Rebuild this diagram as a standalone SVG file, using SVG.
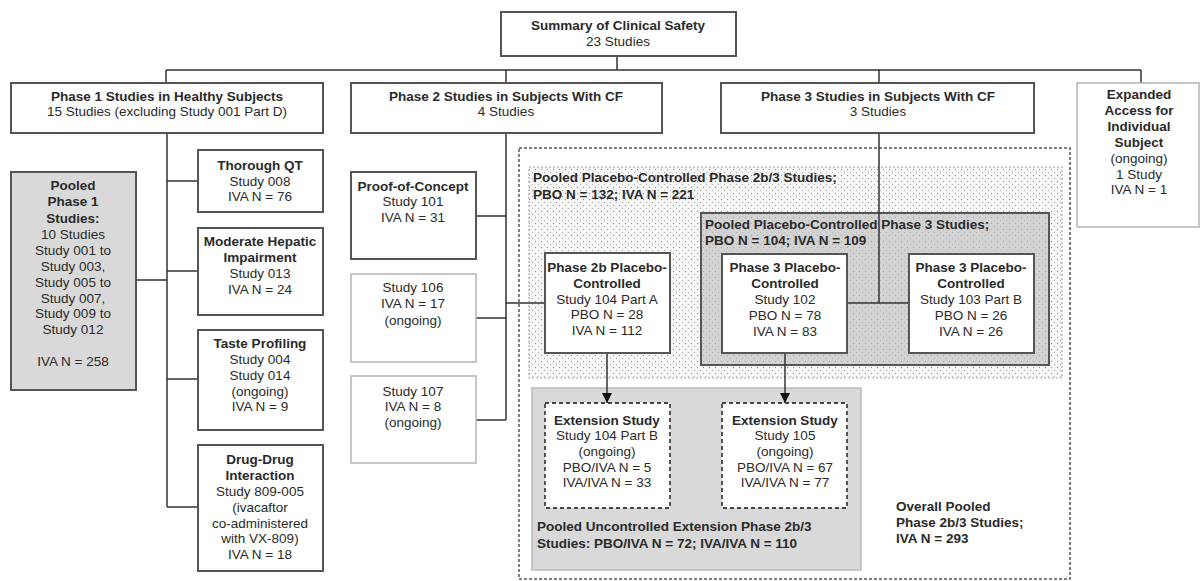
<svg xmlns="http://www.w3.org/2000/svg" width="1202" height="581" viewBox="0 0 1202 581">
<style>
text{font-family:"Liberation Sans",Arial,sans-serif;font-size:13.5px;fill:#2a2a2a;text-anchor:middle;dominant-baseline:middle}
.b{font-weight:bold}
.l{text-anchor:start}
.box{fill:#fff;stroke:#555;stroke-width:2}
.lite{fill:#fff;stroke:#b5b5b5;stroke-width:1.5}
.ext{fill:#fff;stroke:#444;stroke-width:1.8;stroke-dasharray:4 3}
.con{fill:none;stroke:#333;stroke-width:1.5}
</style>
<defs>
<pattern id="dotsW" width="6" height="6" patternUnits="userSpaceOnUse">
<rect width="6" height="6" fill="#f7f7f7"/>
<circle cx="1.5" cy="1.5" r="0.7" fill="#9a9a9a"/>
<circle cx="4.5" cy="4.5" r="0.7" fill="#b5b5b5"/>
</pattern>
<pattern id="dotsG" width="6" height="6" patternUnits="userSpaceOnUse">
<rect width="6" height="6" fill="#d3d3d3"/>
<circle cx="1.5" cy="1.5" r="0.7" fill="#a8a8a8"/>
<circle cx="4.5" cy="4.5" r="0.7" fill="#b8b8b8"/>
</pattern>
<marker id="arr" viewBox="0 0 10 10" refX="10" refY="5" markerWidth="10" markerHeight="10" markerUnits="userSpaceOnUse" orient="auto">
<path d="M0,0 L10,5 L0,10 Z" fill="#111"/>
</marker>
</defs>
<rect width="1202" height="581" fill="#fff"/>

<g id="overall-pool">
<rect x="519" y="148" width="551" height="431" fill="none" stroke="#555" stroke-width="1.5" stroke-dasharray="3 2"/>
<text class="b l" x="896" y="507">Overall Pooled</text>
<text class="b l" x="896" y="523">Phase 2b/3 Studies;</text>
<text class="b l" x="896" y="539">IVA N = 293</text>
</g>
<g id="pool-2b3">
<rect x="529" y="167" width="533" height="211" fill="url(#dotsW)" stroke="#aaa" stroke-width="1.2" stroke-dasharray="2 2"/>
<text class="b l" x="533" y="178">Pooled Placebo-Controlled Phase 2b/3 Studies;</text>
<text class="b l" x="533" y="195">PBO N = 132; IVA N = 221</text>
</g>
<g id="pool-3">
<rect x="701" y="213" width="348" height="152" fill="url(#dotsG)" stroke="#555" stroke-width="2"/>
<text class="b l" x="705" y="225">Pooled Placebo-Controlled Phase 3 Studies;</text>
<text class="b l" x="705" y="241">PBO N = 104; IVA N = 109</text>
</g>
<g id="pool-ext">
<rect x="532" y="388" width="329" height="182" fill="#d9d9d9" stroke="#bbb" stroke-width="1.5"/>
<text class="b l" x="537" y="527">Pooled Uncontrolled Extension Phase 2b/3</text>
<text class="b l" x="537" y="544">Studies: PBO/IVA N = 72; IVA/IVA N = 110</text>
</g>

<g id="connectors">
<path class="con" d="M617,56 V70 M166,70 H1141 M166,70 V83 M506,70 V83 M879,70 V83 M1141,70 V83"/>
<path class="con" d="M167,133 V507 M136,280 H167 M167,181 H198 M167,271 H198 M167,379 H198 M167,507 H198"/>
<path class="con" d="M506,133 V420 M476,216 H506 M476,318 H506 M476,420 H506 M506,303 H545"/>
<path class="con" d="M879,133 V303 M847,303 H909"/>
<path class="con" d="M607,353 V403" marker-end="url(#arr)"/>
<path class="con" d="M785,353 V403" marker-end="url(#arr)"/>
</g>

<g id="summary">
<rect class="box" x="501" y="12" width="235" height="44"/>
<text class="b" x="618" y="26">Summary of Clinical Safety</text>
<text x="618" y="42">23 Studies</text>
</g>
<g id="phase1">
<rect class="box" x="11" y="83" width="312" height="50"/>
<text class="b" x="167" y="97">Phase 1 Studies in Healthy Subjects</text>
<text x="167" y="112">15 Studies (excluding Study 001 Part D)</text>
</g>
<g id="phase2">
<rect class="box" x="351" y="83" width="311" height="50"/>
<text class="b" x="506" y="97">Phase 2 Studies in Subjects With CF</text>
<text x="506" y="112">4 Studies</text>
</g>
<g id="phase3">
<rect class="box" x="721" y="83" width="313" height="50"/>
<text class="b" x="878" y="97">Phase 3 Studies in Subjects With CF</text>
<text x="878" y="112">3 Studies</text>
</g>
<g id="expanded">
<rect class="lite" x="1077" y="83" width="122" height="144"/>
<text class="b" x="1139" y="95">Expanded</text>
<text class="b" x="1139" y="111">Access for</text>
<text class="b" x="1139" y="127">Individual</text>
<text class="b" x="1139" y="143">Subject</text>
<text x="1139" y="159">(ongoing)</text>
<text x="1139" y="175">1 Study</text>
<text x="1139" y="190">IVA N = 1</text>
</g>

<g id="pooled-phase1">
<rect x="11" y="172" width="125" height="218" fill="#d9d9d9" stroke="#555" stroke-width="2"/>
<text class="b" x="73" y="186">Pooled</text>
<text class="b" x="73" y="202">Phase 1</text>
<text class="b" x="73" y="219">Studies:</text>
<text x="73" y="235">10 Studies</text>
<text x="73" y="251">Study 001 to</text>
<text x="73" y="267">Study 003,</text>
<text x="73" y="283">Study 005 to</text>
<text x="73" y="299">Study 007,</text>
<text x="73" y="314">Study 009 to</text>
<text x="73" y="330">Study 012</text>
<text x="73" y="362">IVA N = 258</text>
</g>
<g id="thorough-qt">
<rect class="box" x="198" y="150" width="125" height="62"/>
<text class="b" x="260" y="166">Thorough QT</text>
<text x="260" y="182">Study 008</text>
<text x="260" y="197">IVA N = 76</text>
</g>
<g id="hepatic">
<rect class="box" x="198" y="228" width="125" height="87"/>
<text class="b" x="260" y="242">Moderate Hepatic</text>
<text class="b" x="260" y="258">Impairment</text>
<text x="260" y="274">Study 013</text>
<text x="260" y="290">IVA N = 24</text>
</g>
<g id="taste">
<rect class="box" x="198" y="330" width="125" height="100"/>
<text class="b" x="260" y="344">Taste Profiling</text>
<text x="260" y="360">Study 004</text>
<text x="260" y="376">Study 014</text>
<text x="260" y="392">(ongoing)</text>
<text x="260" y="407">IVA N = 9</text>
</g>
<g id="ddi">
<rect class="box" x="198" y="445" width="125" height="126"/>
<text class="b" x="260" y="460">Drug-Drug</text>
<text class="b" x="260" y="476">Interaction</text>
<text x="260" y="492">Study 809-005</text>
<text x="260" y="508">(ivacaftor</text>
<text x="260" y="524">co-administered</text>
<text x="260" y="539">with VX-809)</text>
<text x="260" y="555">IVA N = 18</text>
</g>

<g id="poc">
<rect class="box" x="351" y="172" width="125" height="87"/>
<text class="b" x="413" y="187">Proof-of-Concept</text>
<text x="413" y="202">Study 101</text>
<text x="413" y="218">IVA N = 31</text>
</g>
<g id="s106">
<rect class="lite" x="351" y="274" width="125" height="88"/>
<text x="413" y="288">Study 106</text>
<text x="413" y="304">IVA N = 17</text>
<text x="413" y="321">(ongoing)</text>
</g>
<g id="s107">
<rect class="lite" x="351" y="376" width="125" height="87"/>
<text x="413" y="392">Study 107</text>
<text x="413" y="407">IVA N = 8</text>
<text x="413" y="423">(ongoing)</text>
</g>

<g id="s104a">
<rect class="box" x="545" y="253" width="125" height="100"/>
<text class="b" x="607" y="268">Phase 2b Placebo-</text>
<text class="b" x="607" y="284">Controlled</text>
<text x="607" y="300">Study 104 Part A</text>
<text x="607" y="315">PBO N = 28</text>
<text x="607" y="331">IVA N = 112</text>
</g>
<g id="s102">
<rect class="box" x="722" y="254" width="125" height="99"/>
<text class="b" x="785" y="268">Phase 3 Placebo-</text>
<text class="b" x="785" y="284">Controlled</text>
<text x="785" y="300">Study 102</text>
<text x="785" y="316">PBO N = 78</text>
<text x="785" y="332">IVA N = 83</text>
</g>
<g id="s103b">
<rect class="box" x="909" y="254" width="125" height="99"/>
<text class="b" x="971" y="268">Phase 3 Placebo-</text>
<text class="b" x="971" y="284">Controlled</text>
<text x="971" y="300">Study 103 Part B</text>
<text x="971" y="316">PBO N = 26</text>
<text x="971" y="332">IVA N = 26</text>
</g>

<g id="s104b">
<rect class="ext" x="545" y="403" width="125" height="105"/>
<text class="b" x="607" y="421">Extension Study</text>
<text x="607" y="436">Study 104 Part B</text>
<text x="607" y="452">(ongoing)</text>
<text x="607" y="468">PBO/IVA N = 5</text>
<text x="607" y="483">IVA/IVA N = 33</text>
</g>
<g id="s105">
<rect class="ext" x="722" y="403" width="125" height="105"/>
<text class="b" x="785" y="421">Extension Study</text>
<text x="785" y="436">Study 105</text>
<text x="785" y="452">(ongoing)</text>
<text x="785" y="468">PBO/IVA N = 67</text>
<text x="785" y="483">IVA/IVA N = 77</text>
</g>
</svg>
